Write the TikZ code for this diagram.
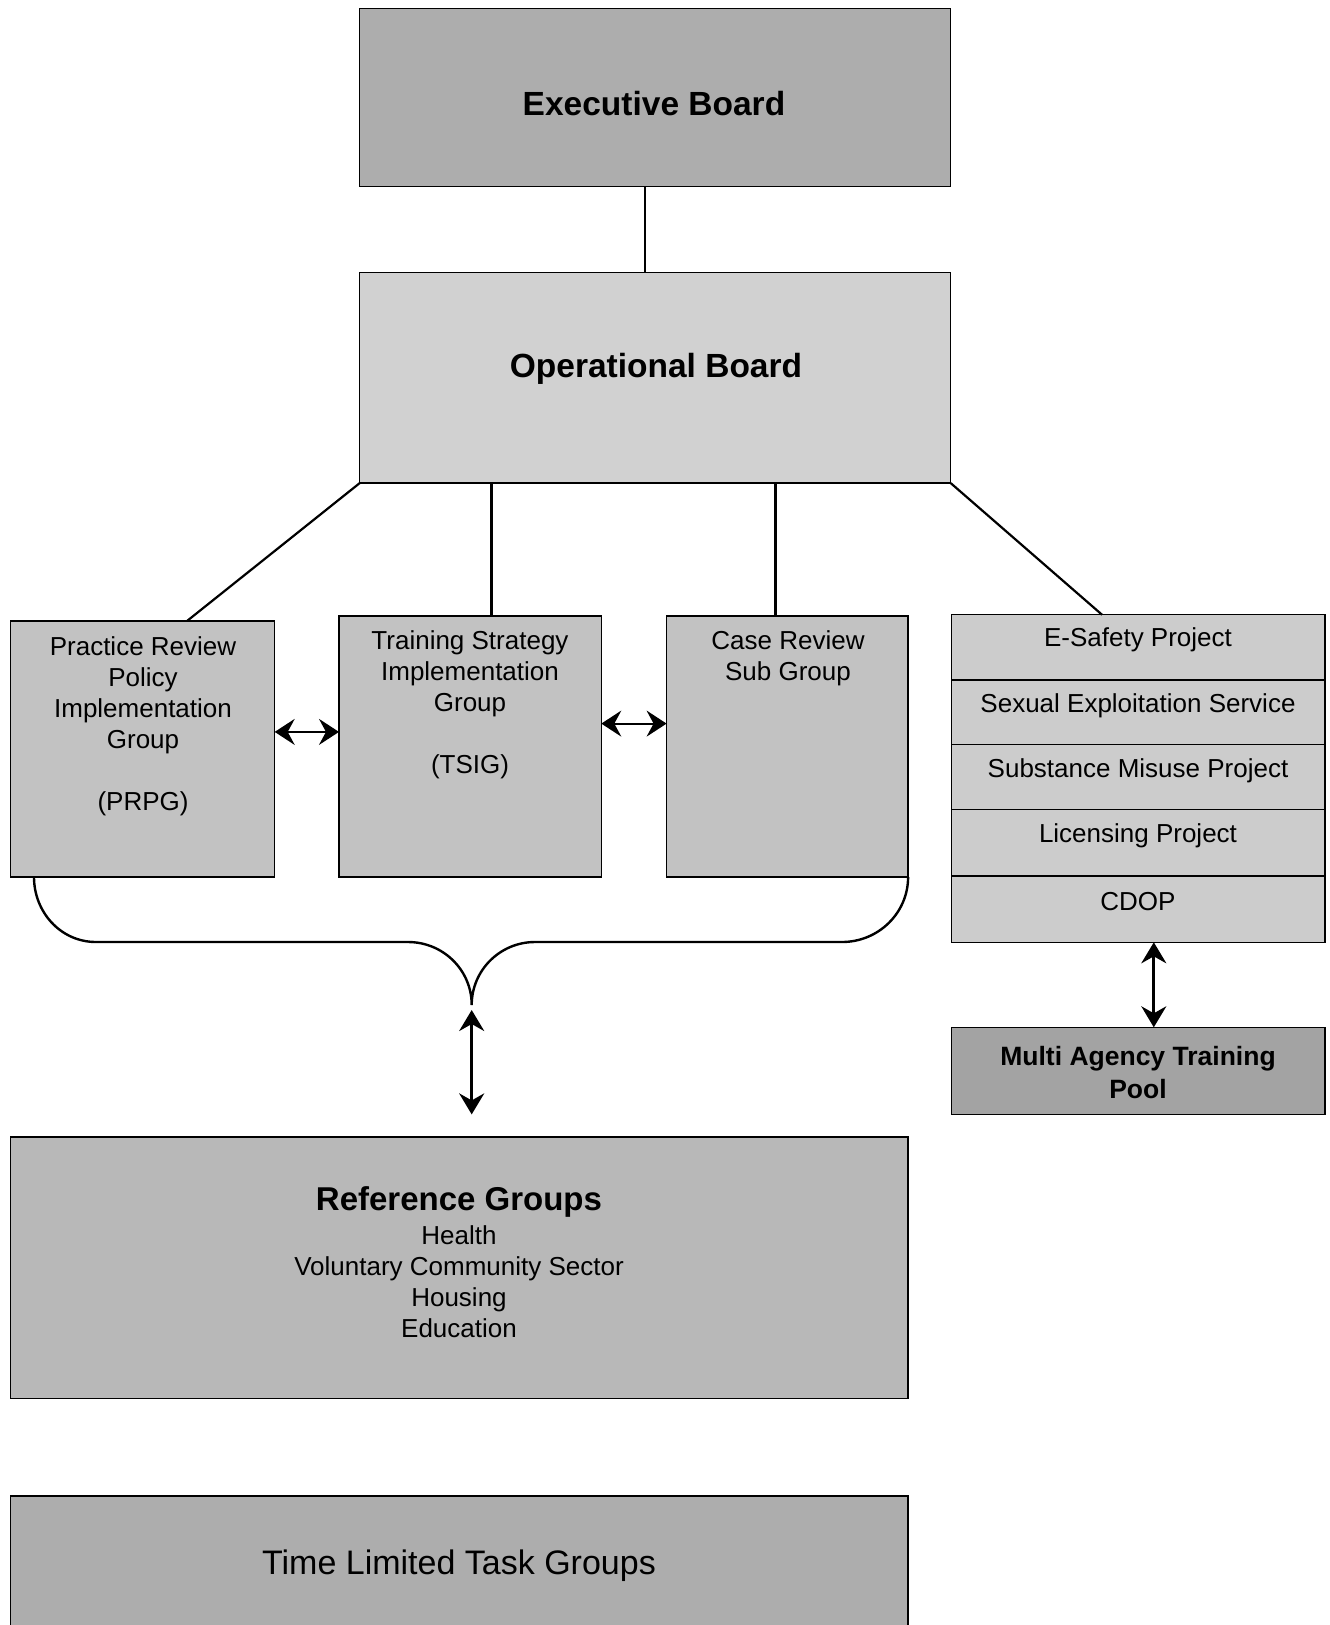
\documentclass[tikz,border=0pt]{standalone}
\usepackage{fontspec}
\setmainfont{Liberation Sans}
\usetikzlibrary{arrows.meta}
\definecolor{cExec}{gray}{0.68}
\definecolor{cOp}{gray}{0.82}
\definecolor{cSub}{gray}{0.76}
\definecolor{cStack}{gray}{0.80}
\definecolor{cMulti}{gray}{0.64}
\definecolor{cRef}{gray}{0.72}
\definecolor{cTime}{gray}{0.68}
\begin{document}
\begin{tikzpicture}[x=1pt,y=-1pt,
  box/.style={draw=black, line width=1.5pt, rectangle, inner sep=0pt, outer sep=0pt, anchor=north west},
  lbl/.style={align=center, inner sep=0pt, font=\fontsize{26}{31}\selectfont},
  big/.style={inner sep=0pt, font=\fontsize{33.5}{40}\selectfont\bfseries},
  conn/.style={line width=2.2pt},
  brace/.style={line width=2.4pt},
  harrow/.style={line width=1.8pt, {Stealth[length=20pt,width=26pt,inset=7pt]}-{Stealth[length=20pt,width=26pt,inset=7pt]}},
  varrow/.style={line width=2.8pt, {Stealth[length=21pt,width=25pt,inset=7pt]}-{Stealth[length=21pt,width=25pt,inset=7pt]}}]
\useasboundingbox (0,0) rectangle (1330,1625);
\fill[white] (0,0) rectangle (1330,1625);

% boxes
\node[box, fill=cExec, minimum width=591pt, minimum height=178.3pt] (exec) at (359.7,8.3) {};
\node[box, fill=cOp, minimum width=591pt, minimum height=210.5pt] (op) at (359.7,272.6) {};
\node[box, fill=cSub, minimum width=264.3pt, minimum height=256pt] (prpg) at (10.4,621) {};
\node[box, fill=cSub, minimum width=262.3pt, minimum height=261.2pt] (tsig) at (339,615.8) {};
\node[box, fill=cSub, minimum width=241.5pt, minimum height=261.2pt] (case) at (666.6,615.8) {};
\node[box, fill=cStack, minimum width=373.2pt, minimum height=65.3pt] (s1) at (951.6,614.7) {};
\node[box, fill=cStack, minimum width=373.2pt, minimum height=64.3pt] (s2) at (951.6,680) {};
\node[box, fill=cStack, minimum width=373.2pt, minimum height=65.3pt] (s3) at (951.6,744.3) {};
\node[box, fill=cStack, minimum width=373.2pt, minimum height=66.4pt] (s4) at (951.6,809.6) {};
\node[box, fill=cStack, minimum width=373.2pt, minimum height=66.3pt] (s5) at (951.6,876) {};
\node[box, fill=cMulti, minimum width=373.2pt, minimum height=87.1pt] (multi) at (951.6,1027.3) {};
\node[box, fill=cRef, minimum width=897.7pt, minimum height=261.2pt] (ref) at (10.4,1137.2) {};
\node[box, draw=none, fill=cTime, minimum width=897.7pt, minimum height=129.1pt] (time) at (10.4,1495.9) {};
\draw[line width=1.5pt] (time.south west) -- (time.north west) -- (time.north east) -- (time.south east);

% texts
\node[big] (exect) at (654,104) {Executive Board};
\node[big] (opt) at (656,369) {Operational Board};
\node[lbl] (prpgt) at (143,726) {Practice Review\\Policy\\Implementation\\Group\\[31pt](PRPG)};
\node[lbl] (tsigt) at (470,705) {Training Strategy\\Implementation\\Group\\[31pt](TSIG)};
\node[lbl] (caset) at (788,658) {Case Review\\Sub Group};
\node[lbl] (s1t) at (1138,640) {E-Safety Project};
\node[lbl] (s2t) at (1138,706) {Sexual Exploitation Service};
\node[lbl] (s3t) at (1138,771) {Substance Misuse Project};
\node[lbl] (s4t) at (1138,836) {Licensing Project};
\node[lbl] (s5t) at (1138,902) {CDOP};
\node[lbl, font=\fontsize{26.5}{33}\selectfont\bfseries] (multit) at (1138,1073) {Multi Agency Training\\Pool};
\node[lbl] (reft) at (459,1262) {{\fontsize{33}{31}\selectfont\bfseries Reference Groups}\\[3pt]Health\\Voluntary Community Sector\\Housing\\Education};
\node[inner sep=0pt, font=\fontsize{34}{40}\selectfont] (timet) at (459,1566) {Time Limited Task Groups};

% connector coordinates
\coordinate (xa) at (645,0);
\coordinate (xb) at (187,0);
\coordinate (xc) at (491.4,0);
\coordinate (xd) at (775.4,0);
\coordinate (xe) at (1102,0);
\coordinate (xf) at (34,0);
\coordinate (xg) at (1153.8,0);
\coordinate (cusp) at (471.7,1005);
\coordinate (arrtop) at (471.7,1010);
\coordinate (arrbot) at (471.7,1114.4);

\draw[conn] (exec.south -| xa) -- (op.north -| xa);
\draw[conn] (op.south west) -- (prpg.north -| xb);
\draw[conn] (op.south -| xc) -- (tsig.north -| xc);
\draw[conn] (op.south -| xd) -- (case.north -| xd);
\draw[conn] (op.south east) -- (s1.north -| xe);

\draw[harrow] (prpg.east |- 0,731.9) -- (tsig.west |- 0,731.9);
\draw[harrow] (tsig.east |- 0,723.6) -- (case.west |- 0,723.6);

\draw[brace] (prpg.south -| xf) to[out=-90,in=180] (96,942) -- (408,942)
  to[out=0,in=90] (cusp) to[out=90,in=180] (535,942) -- (842,942)
  to[out=0,in=-90] (case.south east);
\draw[varrow] (arrtop) -- (arrbot);
\draw[varrow] (s5.south -| xg) -- (multi.north -| xg);
\end{tikzpicture}
\end{document}
